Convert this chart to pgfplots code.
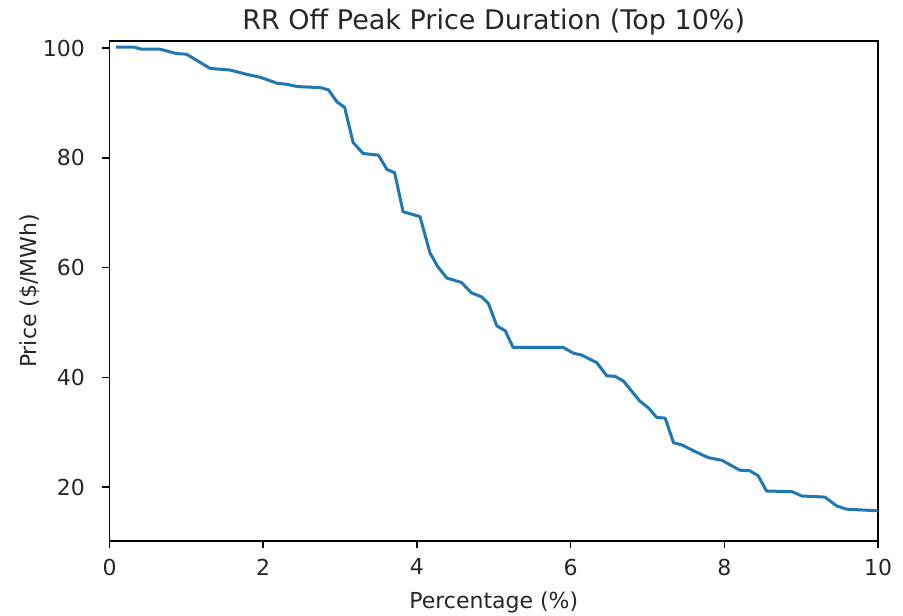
\documentclass[border=0pt]{standalone}
\usepackage{pgfplots}
\pgfplotsset{compat=1.18}
\usepackage{fontspec}
\setmainfont{DejaVu Sans}
\definecolor{mplblue}{HTML}{1F77B4}
\definecolor{txt}{HTML}{262626}
\begin{document}
\fontsize{11}{13}\selectfont
\begin{tikzpicture}
\path[use as bounding box] (-54.75pt,-37pt) rectangle (396.75pt,270.5pt);
\begin{axis}[
  scale only axis,
  width=384.25pt, height=250pt,
  xmin=0, xmax=10, ymin=10.2, ymax=101.3,
  xtick={0,2,4,6,8,10}, ytick={20,40,60,80,100},
  tick align=outside, tick pos=left,
  major tick length=3.5pt,
  every tick/.style={black, line width=0.8pt},
  axis line style={black, line width=0.8pt},
  /pgf/number format/assume math mode=true,
  ticklabel style={font=\fontsize{11}{13}\selectfont, text=txt},
  xticklabel style={yshift=-1.5pt},
  yticklabel style={xshift=-5pt},
  xlabel={Percentage (\%)},
  ylabel={Price (\$/MWh)},
  label style={font=\fontsize{11}{13}\selectfont, text=txt},
  xlabel style={yshift=-0.5pt},
  ylabel style={yshift=-6pt},
  title={RR Off Peak Price Duration (Top 10\%)},
  title style={font=\fontsize{13.5}{15}\selectfont, text=txt, yshift=-7pt},
]
\addplot[mplblue, line width=1.5pt, line join=round] coordinates {
(0.085,100.2) (0.31,100.2) (0.42,99.8) (0.66,99.8) (0.87,99.0) (1.0,98.9)
(1.31,96.3) (1.57,96.0) (1.79,95.2) (1.96,94.7) (2.18,93.6) (2.31,93.4)
(2.44,93.0) (2.74,92.8) (2.85,92.4) (2.96,90.2) (3.06,89.2) (3.17,82.8)
(3.30,80.8) (3.50,80.5) (3.61,77.9) (3.71,77.3) (3.82,70.2) (4.04,69.3)
(4.17,62.7) (4.27,60.2) (4.39,58.1) (4.58,57.3) (4.71,55.4) (4.84,54.7) (4.93,53.5)
(5.04,49.4) (5.15,48.5) (5.25,45.5) (5.90,45.5) (6.04,44.4) (6.14,44.1)
(6.34,42.7) (6.47,40.3) (6.58,40.2) (6.69,39.3) (6.90,35.7) (7.01,34.5)
(7.12,32.7) (7.23,32.6) (7.34,28.1) (7.45,27.7) (7.59,26.7) (7.79,25.4)
(7.97,24.9) (8.20,23.1) (8.33,23.0) (8.44,22.1) (8.55,19.3) (8.88,19.2)
(9.01,18.4) (9.31,18.2) (9.46,16.6) (9.59,16.0) (10.0,15.7)
};
\end{axis}
\end{tikzpicture}
\end{document}
